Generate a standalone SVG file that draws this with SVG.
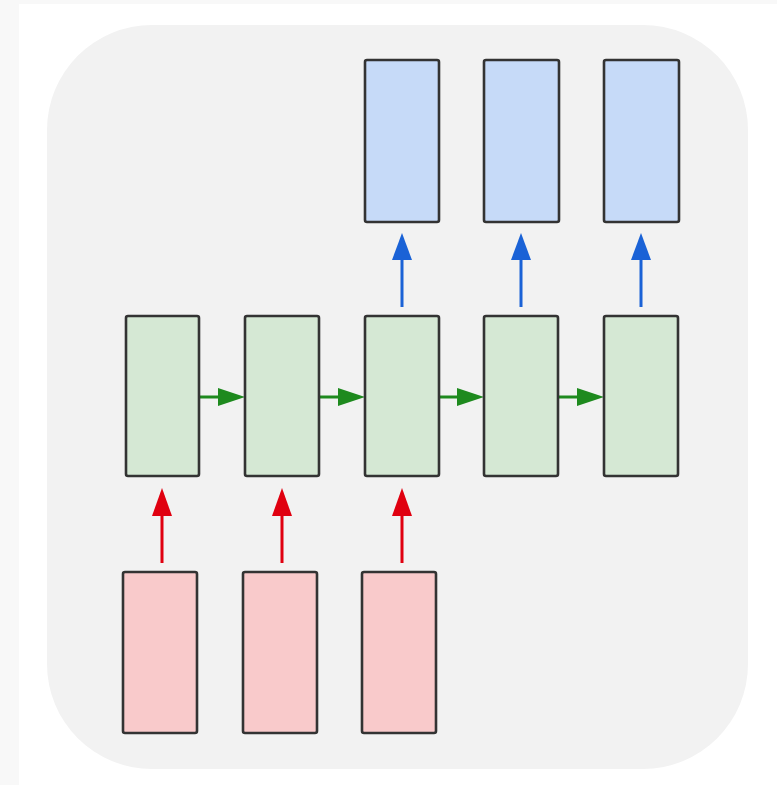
<svg xmlns="http://www.w3.org/2000/svg" width="777" height="785" viewBox="0 0 777 785">
<defs>
<style>
.box{stroke:#333;stroke-width:2.6}
.g{fill:#d5e8d4}
.b{fill:#c6daf8}
.r{fill:#f9cacb}
.lg{stroke:#1e8a1e;stroke-width:3;fill:none}
.lb{stroke:#1a62d6;stroke-width:3;fill:none}
.lr{stroke:#e00010;stroke-width:3;fill:none}
</style>
</defs>
<rect x="0" y="0" width="777" height="785" fill="#f8f8f8"/>
<rect x="19" y="4" width="758" height="781" fill="#ffffff"/>
<rect id="panel" x="47" y="25" width="701" height="744" rx="105" ry="105" fill="#f2f2f2"/>
<g id="connectors">
<line class="lg" x1="199" y1="397" x2="220" y2="397"/>
<polygon points="218,388 245,397 218,406" fill="#1e8a1e"/>
<line class="lg" x1="319" y1="397" x2="340" y2="397"/>
<polygon points="338,388 365,397 338,406" fill="#1e8a1e"/>
<line class="lg" x1="439" y1="397" x2="460" y2="397"/>
<polygon points="457,388 484,397 457,406" fill="#1e8a1e"/>
<line class="lg" x1="558" y1="397" x2="580" y2="397"/>
<polygon points="577,388 604,397 577,406" fill="#1e8a1e"/>
<line class="lr" x1="162" y1="563" x2="162" y2="512"/>
<polygon points="152,516 162,488 172,516" fill="#e00010"/>
<line class="lr" x1="282" y1="563" x2="282" y2="512"/>
<polygon points="272,516 282,488 292,516" fill="#e00010"/>
<line class="lr" x1="402" y1="563" x2="402" y2="512"/>
<polygon points="392,516 402,488 412,516" fill="#e00010"/>
<line class="lb" x1="402" y1="307" x2="402" y2="256"/>
<polygon points="392,260 402,233 412,260" fill="#1a62d6"/>
<line class="lb" x1="521" y1="307" x2="521" y2="256"/>
<polygon points="511,260 521,233 531,260" fill="#1a62d6"/>
<line class="lb" x1="641" y1="307" x2="641" y2="256"/>
<polygon points="631,260 641,233 651,260" fill="#1a62d6"/>
</g>
<g id="out1"><rect class="box b" x="365" y="60" width="74" height="162" rx="2"/></g>
<g id="out2"><rect class="box b" x="484" y="60" width="75" height="162" rx="2"/></g>
<g id="out3"><rect class="box b" x="604" y="60" width="75" height="162" rx="2"/></g>
<g id="h1"><rect class="box g" x="126" y="316" width="73" height="160" rx="2"/></g>
<g id="h2"><rect class="box g" x="245" y="316" width="74" height="160" rx="2"/></g>
<g id="h3"><rect class="box g" x="365" y="316" width="74" height="160" rx="2"/></g>
<g id="h4"><rect class="box g" x="484" y="316" width="74" height="160" rx="2"/></g>
<g id="h5"><rect class="box g" x="604" y="316" width="74" height="160" rx="2"/></g>
<g id="in1"><rect class="box r" x="123" y="572" width="74" height="161" rx="2"/></g>
<g id="in2"><rect class="box r" x="243" y="572" width="74" height="161" rx="2"/></g>
<g id="in3"><rect class="box r" x="362" y="572" width="74" height="161" rx="2"/></g>
</svg>
